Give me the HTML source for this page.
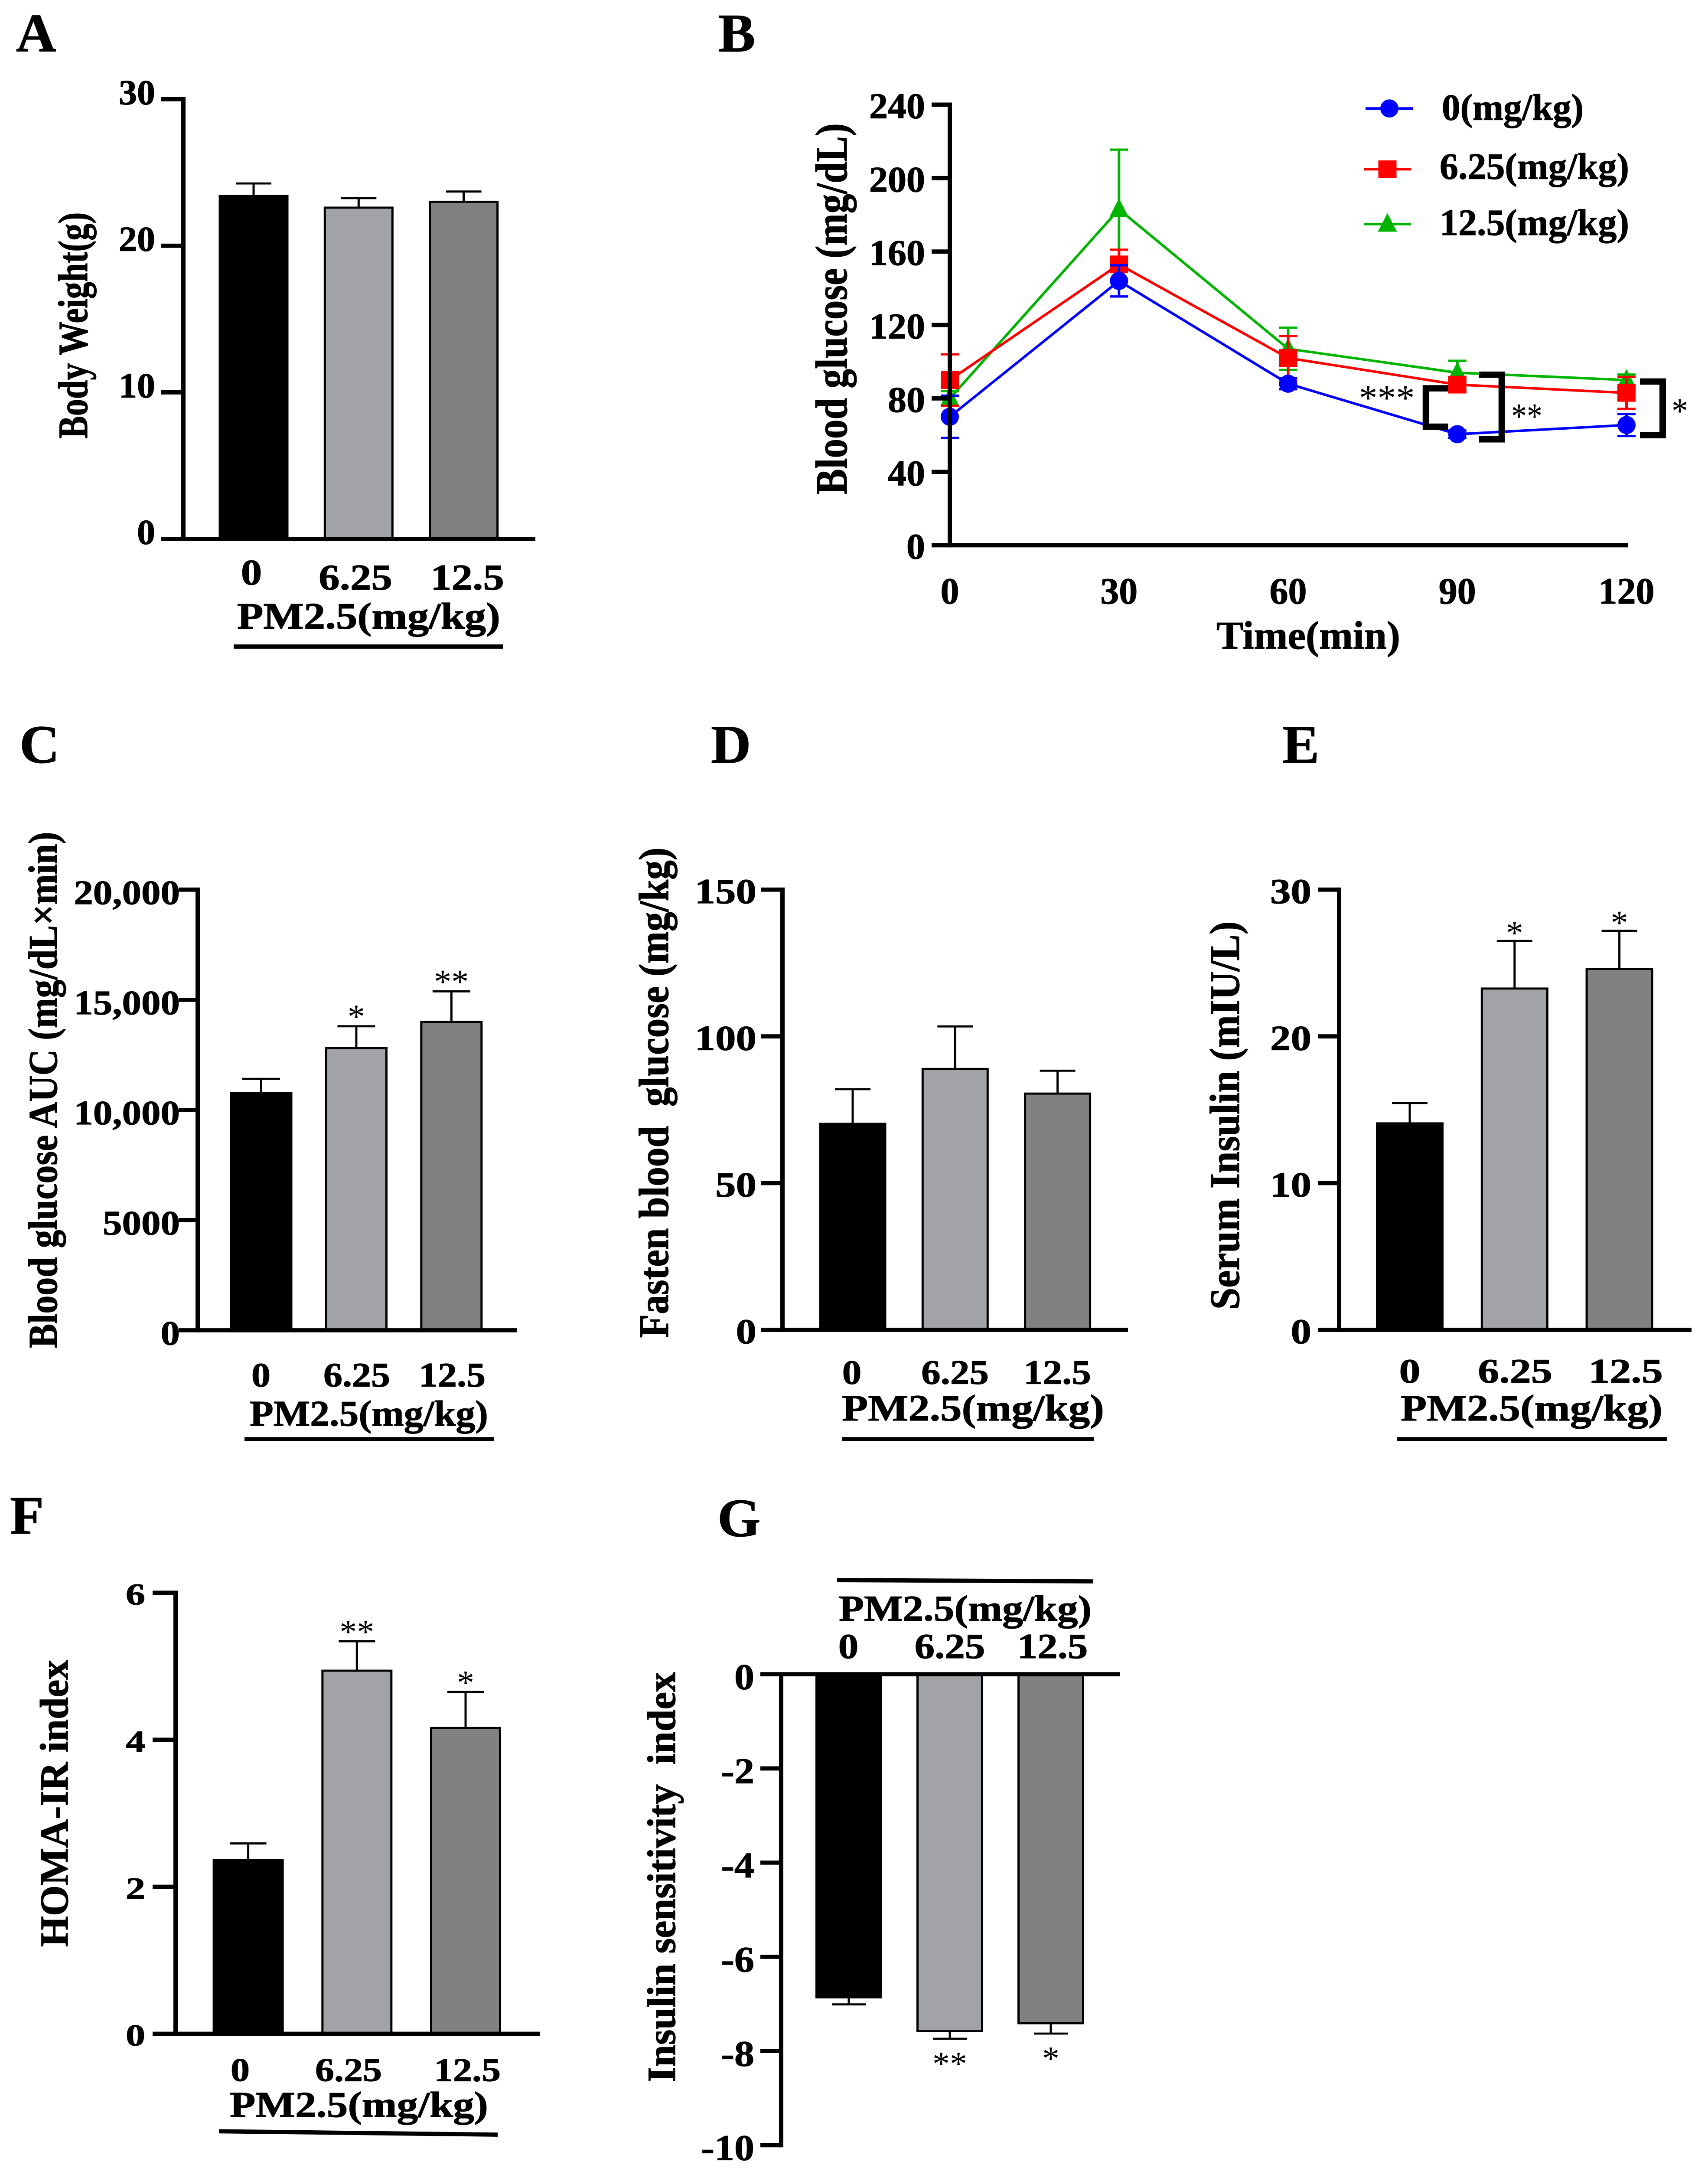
<!DOCTYPE html>
<html lang="en">
<head>
<meta charset="utf-8">
<title>PM2.5 metabolic figure</title>
<style>
html,body{margin:0;padding:0;background:#fff;width:100%;height:100%;overflow:hidden;}
svg{display:block;position:absolute;left:0;top:0;width:100vw;height:100vh;}
text{font-family:"Liberation Serif",serif;font-weight:700;fill:#000;white-space:pre;stroke:#000;stroke-width:1.2px;}
</style>
</head>
<body>
<svg id="figure" xmlns="http://www.w3.org/2000/svg" viewBox="0 0 3940 5137" preserveAspectRatio="none">
<rect x="0" y="0" width="3940" height="5137" fill="#ffffff"/>
</svg>
<script>
const doseCategories = ['0', '6.25', '12.5'];

const bodyWeightMeans = [23.4, 22.6, 23.0];
const bodyWeightErrors = [0.85, 0.65, 0.7];
const bodyWeightTicks = [0, 10, 20, 30];
const bodyWeightTickLabels = ['0', '10', '20', '30'];
const bodyWeightStars = ['', '', ''];

const aucMeans = [10770, 12810, 14000];
const aucErrors = [640, 990, 1385];
const aucTicks = [0, 5000, 10000, 15000, 20000];
const aucTickLabels = ['0', '5000', '10,000', '15,000', '20,000'];
const aucStars = ['', '*', '**'];

const fastingMeans = [70.2, 88.9, 80.5];
const fastingErrors = [11.8, 14.5, 7.8];
const fastingTicks = [0, 50, 100, 150];
const fastingTickLabels = ['0', '50', '100', '150'];
const fastingStars = ['', '', ''];

const insulinMeans = [14.07, 23.26, 24.6];
const insulinErrors = [1.39, 3.24, 2.6];
const insulinTicks = [0, 10, 20, 30];
const insulinTickLabels = ['0', '10', '20', '30'];
const insulinStars = ['', '*', '*'];

const homaMeans = [2.36, 4.94, 4.16];
const homaErrors = [0.23, 0.4, 0.49];
const homaTicks = [0, 2, 4, 6];
const homaTickLabels = ['0', '2', '4', '6'];
const homaStars = ['', '**', '*'];

const sensitivityMeans = [-6.86, -7.58, -7.41];
const sensitivityErrors = [0.15, 0.16, 0.22];
const sensitivityTicks = [0, -2, -4, -6, -8, -10];
const sensitivityTickLabels = ['0', '-2', '-4', '-6', '-8', '-10'];
const sensitivityStars = ['', '**', '*'];

const timePoints = [0, 30, 60, 90, 120];
const glucoseTicks = [0, 40, 80, 120, 160, 200, 240];
const glucoseTickLabels = ['0', '40', '80', '120', '160', '200', '240'];
const glucoseDose0 = [70, 144, 88, 60.5, 65.5];
const glucoseDose0Err = [11.5, 8.5, 3, 2, 6];
const glucoseDose625 = [90, 153, 102, 87.5, 83];
const glucoseDose625Err = [14, 8, 12, 4, 8.7];
const glucoseDose125 = [80, 183, 107, 94, 90];
const glucoseDose125Err = [4, 32.5, 11.5, 6.5, 3];

const SVGNS = 'http://www.w3.org/2000/svg';
const figure = document.getElementById('figure');
const BLACK = '#000000';
const BAR_FILLS = ['#000000', '#a2a3a6', '#818181'];

function mk(parent, tag, name, attrs) {
  const el = document.createElementNS(SVGNS, tag);
  
  
  for (const k in attrs) el.setAttribute(k, attrs[k]);
  parent.appendChild(el);
  return el;
}
function line(parent, name, x1, y1, x2, y2, color, w) {
  return mk(parent, 'line', name, { x1: x1, y1: y1, x2: x2, y2: y2, stroke: color, 'stroke-width': w });
}
function txt(parent, name, str, x, y, size, width, anchor, rotated, weight) {
  const a = { x: x, y: y, 'font-size': size, 'text-anchor': anchor || 'start' };
  if (width) { a.textLength = width; a.lengthAdjust = 'spacingAndGlyphs'; }
  if (rotated) a.transform = 'rotate(-90 ' + x + ' ' + y + ')';
  const el = mk(parent, 'text', name, a);
  if (weight) { el.style.fontWeight = weight; el.style.strokeWidth = '0'; }
  el.textContent = str;
  return el;
}
function emOf(str) {
  let n = 0;
  for (const c of str) n += (c === '.' || c === ',') ? 0.25 : (c === '-' ? 0.333 : 0.5);
  return n;
}
function stars(parent, name, str, cx, cy, size, width) {
  if (!str) return;
  txt(parent, name, str, cx, cy + size * 0.47, size, width || null, 'middle', false, '400');
}

function drawBarPanel(p, means, errors, ticks, tickLabels, starLabels) {
  const g = mk(figure, 'g', p.id, {});
  const lo = Math.min.apply(null, ticks), hi = Math.max.apply(null, ticks);
  const y = v => p.yHi + (hi - v) / (hi - lo) * (p.yLo - p.yHi);
  const barX = i => p.barFirst + i * p.barStep;

  txt(g, 'panel-letter', p.letter, p.letterX, p.letterY, 128);
  txt(g, 'y-axis-title', p.title, p.titleX, p.titleY, p.titleSize, p.titleLen, 'start', true);

  means.forEach((m, i) => {
    const top = Math.min(y(m), y(0)), bottom = Math.max(y(m), y(0));
    const dir = m >= 0 ? 1 : -1;
    const end = y(m + dir * errors[i]);
    line(g, 'error-bar-' + doseCategories[i], barX(i), y(m), barX(i), end, BLACK, 5);
    line(g, 'error-cap-' + doseCategories[i], barX(i) - p.capW / 2, end, barX(i) + p.capW / 2, end, BLACK, 5);
    mk(g, 'rect', 'bar-' + doseCategories[i], {
      x: barX(i) - p.barW / 2 + 2.5, y: top, width: p.barW - 5, height: bottom - top,
      fill: BAR_FILLS[i], stroke: BLACK, 'stroke-width': 5
    });
    stars(g, 'significance-' + doseCategories[i], starLabels[i], barX(i), end + p.starDy, 80);
  });

  line(g, 'y-axis', p.axisX, y(hi) - 5, p.axisX, y(lo) + 5, BLACK, 10);
  line(g, 'x-axis', p.tickLeft, y(0), p.right, y(0), BLACK, 10);
  ticks.forEach((t, i) => {
    if (t !== 0) line(g, 'y-tick', p.tickLeft, y(t), p.axisX, y(t), BLACK, 10);
    txt(g, 'y-tick-label', tickLabels[i], p.tickRight, y(t) + p.tickDy, p.tickSize, emOf(tickLabels[i]) * p.tickEm, 'end');
  });
  doseCategories.forEach((c, i) => {
    txt(g, 'x-tick-label', c, p.labelCx[i], p.labelY[i], p.labelSize, emOf(c) * p.labelEm, 'middle');
  });
  txt(g, 'group-label', 'PM2.5(mg/kg)', p.groupX, p.groupY, p.groupSize, p.groupLen);
  line(g, 'group-underline', p.ruleX1, p.ruleY1, p.ruleX2, p.ruleY2, BLACK, 10);
}

drawBarPanel({
  id: 'panel-a-body-weight', letter: 'A', letterX: 37, letterY: 122,
  title: 'Body Weight(g)', titleX: 201, titleY: 1039, titleSize: 96, titleLen: 536,
  yHi: 235, yLo: 1277, axisX: 423, tickLeft: 372, right: 1235, tickRight: 358, tickDy: 12, tickSize: 84, tickEm: 84,
  barFirst: 585, barStep: 242.3, barW: 161, capW: 82, starDy: 0,
  labelCx: [580, 820, 1078], labelY: [1385, 1397, 1397], labelSize: 86, labelEm: 97,
  groupX: 547, groupY: 1489, groupSize: 88, groupLen: 607, ruleX1: 539, ruleY1: 1532, ruleX2: 1160, ruleY2: 1532
}, bodyWeightMeans, bodyWeightErrors, bodyWeightTicks, bodyWeightTickLabels, bodyWeightStars);

drawBarPanel({
  id: 'panel-c-glucose-auc', letter: 'C', letterX: 45, letterY: 1807,
  title: 'Blood glucose AUC (mg/dL×min)', titleX: 131, titleY: 3194, titleSize: 94, titleLen: 1223,
  yHi: 2108, yLo: 3152, axisX: 456, tickLeft: 412, right: 1192, tickRight: 415, tickDy: 34, tickSize: 82, tickEm: 89,
  barFirst: 602.5, barStep: 219.4, barW: 144, capW: 87, starDy: -34,
  labelCx: [602, 823, 1043], labelY: [3285, 3285, 3285], labelSize: 82, labelEm: 88,
  groupX: 576, groupY: 3378, groupSize: 86, groupLen: 550, ruleX1: 564, ruleY1: 3410, ruleX2: 1140, ruleY2: 3410
}, aucMeans, aucErrors, aucTicks, aucTickLabels, aucStars);

drawBarPanel({
  id: 'panel-d-fasting-glucose', letter: 'D', letterX: 1640, letterY: 1807,
  title: 'Fasten blood  glucose (mg/kg)', titleX: 1541, titleY: 3170, titleSize: 98, titleLen: 1162,
  yHi: 2108, yLo: 3151, axisX: 1805, tickLeft: 1756, right: 2602, tickRight: 1745, tickDy: 32, tickSize: 84, tickEm: 95,
  barFirst: 1967, barStep: 236.3, barW: 155, capW: 82, starDy: -30,
  labelCx: [1965, 2203, 2439], labelY: [3279, 3279, 3279], labelSize: 82, labelEm: 89,
  groupX: 1942, groupY: 3366, groupSize: 88, groupLen: 605, ruleX1: 1942, ruleY1: 3410, ruleX2: 2523, ruleY2: 3410
}, fastingMeans, fastingErrors, fastingTicks, fastingTickLabels, fastingStars);

drawBarPanel({
  id: 'panel-e-serum-insulin', letter: 'E', letterX: 2958, letterY: 1807,
  title: 'Serum Insulin (mIU/L)', titleX: 2858, titleY: 3103, titleSize: 98, titleLen: 920,
  yHi: 2108, yLo: 3151, axisX: 3089, tickLeft: 3041, right: 3902, tickRight: 3025, tickDy: 32, tickSize: 84, tickEm: 95,
  barFirst: 3252, barStep: 241.8, barW: 156, capW: 82, starDy: -30,
  labelCx: [3252, 3495, 3750], labelY: [3276, 3276, 3276], labelSize: 82, labelEm: 98,
  groupX: 3231, groupY: 3366, groupSize: 88, groupLen: 604, ruleX1: 3223, ruleY1: 3410, ruleX2: 3845, ruleY2: 3410
}, insulinMeans, insulinErrors, insulinTicks, insulinTickLabels, insulinStars);

drawBarPanel({
  id: 'panel-f-homa-ir', letter: 'F', letterX: 23, letterY: 3634,
  title: 'HOMA-IR index', titleX: 156, titleY: 4613, titleSize: 92, titleLen: 680,
  yHi: 3774, yLo: 4819, axisX: 405, tickLeft: 352, right: 1246, tickRight: 335, tickDy: 28, tickSize: 72, tickEm: 90,
  barFirst: 572.6, barStep: 250.7, barW: 164, capW: 84, starDy: -33,
  labelCx: [554, 804, 1078], labelY: [4931, 4931, 4931], labelSize: 78, labelEm: 88,
  groupX: 530, groupY: 5016, groupSize: 86, groupLen: 596, ruleX1: 505, ruleY1: 5050, ruleX2: 1148, ruleY2: 5058
}, homaMeans, homaErrors, homaTicks, homaTickLabels, homaStars);

drawBarPanel({
  id: 'panel-g-insulin-sensitivity', letter: 'G', letterX: 1655, letterY: 3640,
  title: 'Insulin sensitivity  index', titleX: 1557, titleY: 4934, titleSize: 92, titleLen: 972,
  yHi: 3967, yLo: 5083, axisX: 1802, tickLeft: 1754, right: 2584, tickRight: 1740, tickDy: 35, tickSize: 86, tickEm: 92,
  barFirst: 1958, barStep: 233, barW: 154, capW: 78, starDy: 48,
  labelCx: [1957, 2191, 2428], labelY: [3929, 3929, 3929], labelSize: 84, labelEm: 93,
  groupX: 1935, groupY: 3840, groupSize: 86, groupLen: 583, ruleX1: 1931, ruleY1: 3744, ruleX2: 2522, ruleY2: 3747
}, sensitivityMeans, sensitivityErrors, sensitivityTicks, sensitivityTickLabels, sensitivityStars);

/* Panel B: glucose tolerance line chart */
const panelB = mk(figure, 'g', 'panel-b-glucose-tolerance', {});
const bX = t => 2191 + (t / 120) * (3752 - 2191);
const bY = v => 1292 - (v / 240) * (1292 - 248);
function drawMarker(parent, kind, name, x, y, color) {
  if (kind === 'circle') {
    mk(parent, 'ellipse', name, { cx: x, cy: y, rx: 21, ry: 21.5, fill: color });
  } else if (kind === 'square') {
    mk(parent, 'rect', name, { x: x - 21, y: y - 21, width: 42, height: 42, fill: color });
  } else {
    mk(parent, 'polygon', name, { points: (x - 22) + ',' + (y + 18) + ' ' + x + ',' + (y - 26) + ' ' + (x + 22) + ',' + (y + 18), fill: color });
  }
}
function drawSeries(name, values, errs, color, kind) {
  const g = mk(panelB, 'g', 'series-' + name, {});
  values.forEach((v, i) => {
    const x = bX(timePoints[i]);
    line(g, 'error-bar', x, bY(v - errs[i]), x, bY(v + errs[i]), color, 6);
    line(g, 'error-cap-upper', x - 21, bY(v + errs[i]), x + 21, bY(v + errs[i]), color, 5.5);
    line(g, 'error-cap-lower', x - 21, bY(v - errs[i]), x + 21, bY(v - errs[i]), color, 5.5);
  });
  mk(g, 'polyline', 'series-line', {
    points: values.map((v, i) => bX(timePoints[i]) + ',' + bY(v)).join(' '),
    fill: 'none', stroke: color, 'stroke-width': 6
  });
  values.forEach((v, i) => {
    drawMarker(g, kind, 'marker', bX(timePoints[i]), bY(v), color);
  });
}
txt(panelB, 'panel-letter', 'B', 1657, 122, 128);
txt(panelB, 'y-axis-title', 'Blood glucose (mg/dL)', 1953, 1172, 104, 880, 'start', true);
drawSeries('12-5', glucoseDose125, glucoseDose125Err, '#00b400', 'triangle');
drawSeries('6-25', glucoseDose625, glucoseDose625Err, '#ff0000', 'square');
drawSeries('0', glucoseDose0, glucoseDose0Err, '#0000ff', 'circle');

line(panelB, 'y-axis', 2191, bY(240) - 5, 2191, bY(0) + 5, BLACK, 10);
line(panelB, 'x-axis', 2149, bY(0), 3755, bY(0), BLACK, 10);
glucoseTicks.forEach((t, i) => {
  if (t !== 0) line(panelB, 'y-tick', 2149, bY(t), 2191, bY(t), BLACK, 10);
  txt(panelB, 'y-tick-label', glucoseTickLabels[i], 2134, bY(t) + 32, 86, emOf(glucoseTickLabels[i]) * 86, 'end');
});
timePoints.forEach(t => {
  txt(panelB, 'x-tick-label', String(t), bX(t), 1430, 88, emOf(String(t)) * 86, 'middle');
});
txt(panelB, 'x-axis-title', 'Time(min)', 2806, 1537, 94, 424);

function bracket(name, spineX, tipX, vTop, vBottom) {
  mk(panelB, 'polyline', name, {
    points: tipX + ',' + bY(vTop) + ' ' + spineX + ',' + bY(vTop) + ' ' + spineX + ',' + bY(vBottom) + ' ' + tipX + ',' + bY(vBottom),
    fill: 'none', stroke: BLACK, 'stroke-width': 15
  });
}
bracket('bracket-90-inner', bX(90) - 72.5, bX(90) - 21, 85.5, 64.6);
bracket('bracket-90-outer', bX(90) + 102.5, bX(90) + 50, 92.9, 57.7);
bracket('bracket-120', bX(120) + 83.5, bX(120) + 31, 89.2, 60);
stars(panelB, 'significance-90-inner', '***', 3199, 931, 86);
stars(panelB, 'significance-90-outer', '**', 3522, 974, 86, 72);
stars(panelB, 'significance-120', '*', 3875, 962, 86, 38);

const legend = mk(panelB, 'g', 'legend', {});
function legendEntry(label, color, kind, lineX1, lineX2, lineY, textX, textY, textW) {
  const g = mk(legend, 'g', 'legend-entry', {});
  line(g, 'legend-line', lineX1, lineY, lineX2, lineY, color, 6);
  drawMarker(g, kind, 'legend-marker', (lineX1 + lineX2) / 2, lineY, color);
  txt(g, 'legend-label', label, textX, textY, 88, textW);
}
legendEntry('0(mg/kg)', '#0000ff', 'circle', 3150, 3260, 257, 3326, 284, 327);
legendEntry('6.25(mg/kg)', '#ff0000', 'square', 3146, 3255, 401, 3321, 424, 437);
legendEntry('12.5(mg/kg)', '#00b400', 'triangle', 3146, 3255, 531, 3321, 557, 437);
</script>
</body>
</html>
